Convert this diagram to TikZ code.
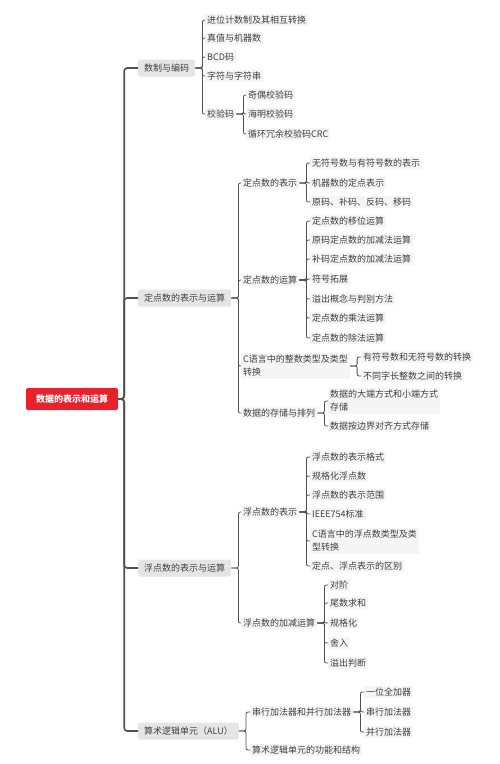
\documentclass[tikz,border=0pt]{standalone}
\usepackage{fontspec}
\setmainfont{Noto Sans CJK SC}
\usetikzlibrary{positioning}
\definecolor{rootred}{RGB}{232,34,44}
\definecolor{linegray}{RGB}{80,80,80}
\definecolor{topicgray}{RGB}{229,229,229}
\definecolor{leafgray}{RGB}{245,245,245}

\begin{document}
\begin{tikzpicture}[
    x=1pt, y=-1pt,
    font=\fontsize{9}{13}\selectfont,
    root/.style={rectangle,rounded corners=2pt,fill=rootred,text=white,font=\fontsize{9}{13}\selectfont\bfseries,minimum width=92pt,minimum height=22pt,inner sep=0pt},
    topic/.style={rectangle,rounded corners=2pt,fill=topicgray,text=black!75,anchor=west,minimum height=17pt,inner xsep=6pt,inner ysep=0pt},
    leaf/.style={rectangle,fill=leafgray,text=black!75,anchor=west,inner xsep=2pt,inner ysep=2pt,align=left},
    trunk/.style={draw=linegray,line width=1.6pt,rounded corners=3pt},
    link/.style={draw=linegray,line width=0.8pt,rounded corners=2pt}
]
    \useasboundingbox (0,0) rectangle (500,764);

    % centre and main branches
    \node[root]  (root) at (72,399)  {数据的表示和运算};
    \node[topic] (zhi)  at (138,68)  {数制与编码};
    \node[topic] (ding) at (138,298) {定点数的表示与运算};
    \node[topic] (fu)   at (138,568) {浮点数的表示与运算};
    \node[topic] (alu)  at (138,731) {算术逻辑单元（ALU）};

    % 数制与编码
    \node[leaf] (zhi1) at (205,20)  {进位计数制及其相互转换};
    \node[leaf] (zhi2) at (205,38)  {真值与机器数};
    \node[leaf] (zhi3) at (205,57)  {BCD码};
    \node[leaf] (zhi4) at (205,76)  {字符与字符串};
    \node[leaf] (zhi5) at (205,114) {校验码};
    \node[leaf] (jy1)  at (246,95)  {奇偶校验码};
    \node[leaf] (jy2)  at (246,114) {海明校验码};
    \node[leaf] (jy3)  at (246,134) {循环冗余校验码CRC};

    % 定点数的表示与运算
    \node[leaf] (ding1) at (241,183) {定点数的表示};
    \node[leaf] (ding2) at (241,280) {定点数的运算};
    \node[leaf] (ding3) at (241,366) {C语言中的整数类型及类型\\转换};
    \node[leaf] (ding4) at (241,413) {数据的存储与排列};
    \node[leaf] (bs1) at (310,163) {无符号数与有符号数的表示};
    \node[leaf] (bs2) at (310,183) {机器数的定点表示};
    \node[leaf] (bs3) at (310,202) {原码、补码、反码、移码};
    \node[leaf] (ys1) at (310,221) {定点数的移位运算};
    \node[leaf] (ys2) at (310,240) {原码定点数的加减法运算};
    \node[leaf] (ys3) at (310,259) {补码定点数的加减法运算};
    \node[leaf] (ys4) at (310,279) {符号拓展};
    \node[leaf] (ys5) at (310,299) {溢出概念与判别方法};
    \node[leaf] (ys6) at (310,318) {定点数的乘法运算};
    \node[leaf] (ys7) at (310,338) {定点数的除法运算};
    \node[leaf] (zx1) at (361,357) {有符号数和无符号数的转换};
    \node[leaf] (zx2) at (361,376) {不同字长整数之间的转换};
    \node[leaf] (cc1) at (328,401) {数据的大端方式和小端方式\\存储};
    \node[leaf] (cc2) at (328,426) {数据按边界对齐方式存储};

    % 浮点数的表示与运算
    \node[leaf] (fu1) at (241,512) {浮点数的表示};
    \node[leaf] (fu2) at (241,623) {浮点数的加减运算};
    \node[leaf] (fb1) at (310,457) {浮点数的表示格式};
    \node[leaf] (fb2) at (310,476) {规格化浮点数};
    \node[leaf] (fb3) at (310,495) {浮点数的表示范围};
    \node[leaf] (fb4) at (310,514) {IEEE754标准};
    \node[leaf] (fb5) at (310,541) {C语言中的浮点数类型及类\\型转换};
    \node[leaf] (fb6) at (310,566) {定点、浮点表示的区别};
    \node[leaf] (fj1) at (328,585) {对阶};
    \node[leaf] (fj2) at (328,603) {尾数求和};
    \node[leaf] (fj3) at (328,623) {规格化};
    \node[leaf] (fj4) at (328,643) {舍入};
    \node[leaf] (fj5) at (328,663) {溢出判断};

    % 算术逻辑单元
    \node[leaf] (alu1) at (250,712) {串行加法器和并行加法器};
    \node[leaf] (alu2) at (250,750) {算术逻辑单元的功能和结构};
    \node[leaf] (jf1) at (364,692) {一位全加器};
    \node[leaf] (jf2) at (364,712) {串行加法器};
    \node[leaf] (jf3) at (364,732) {并行加法器};

    % connectors
    \foreach \c in {zhi,ding,fu,alu}
        \draw[trunk] (root.east) -- ++(6,0) |- (\c.west);
    \foreach \p/\kids in {zhi/{zhi1,zhi2,zhi3,zhi4,zhi5}, zhi5/{jy1,jy2,jy3},
                          ding/{ding1,ding2,ding3,ding4}, ding1/{bs1,bs2,bs3},
                          ding2/{ys1,ys2,ys3,ys4,ys5,ys6,ys7}, ding3/{zx1,zx2}, ding4/{cc1,cc2},
                          fu/{fu1,fu2}, fu1/{fb1,fb2,fb3,fb4,fb5,fb6}, fu2/{fj1,fj2,fj3,fj4,fj5},
                          alu/{alu1,alu2}, alu1/{jf1,jf2,jf3}}
        \foreach \c in \kids
            \draw[link] (\p.east) -- ++(7,0) |- (\c.west);
\end{tikzpicture}
\end{document}
